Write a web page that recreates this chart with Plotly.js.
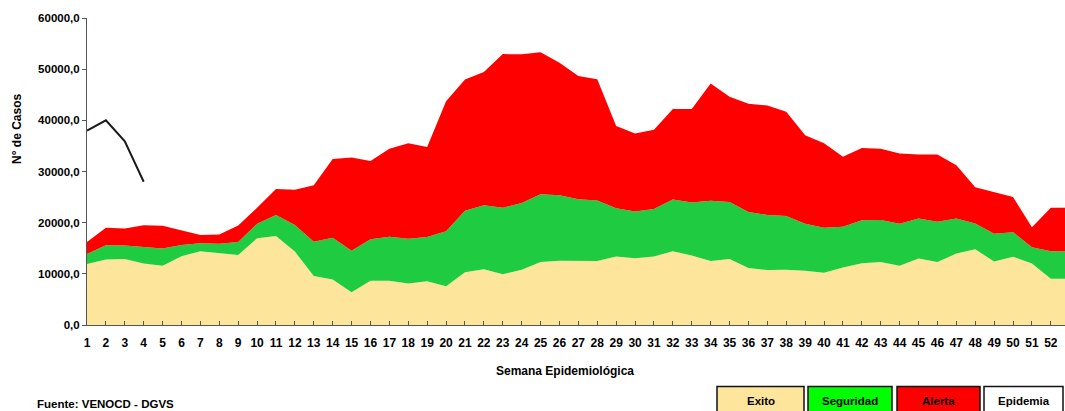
<!DOCTYPE html>
<html>
<head>
<meta charset="utf-8">
<script src="https://cdn.plot.ly/plotly-3.0.1.min.js"></script>
<style>html,body{margin:0;padding:0;background:#fff;}#chart{width:1065px;height:411px;}</style>
</head>
<body>
<div id="chart"></div>
<script>
var weeks = [1,2,3,4,5,6,7,8,9,10,11,12,13,14,15,16,17,18,19,20,21,22,23,24,25,26,27,28,29,30,31,32,33,34,35,36,37,38,39,40,41,42,43,44,45,46,47,48,49,50,51,52,53];
var tickWeeks = [1,2,3,4,5,6,7,8,9,10,11,12,13,14,15,16,17,18,19,20,21,22,23,24,25,26,27,28,29,30,31,32,33,34,35,36,37,38,39,40,41,42,43,44,45,46,47,48,49,50,51,52];
// cumulative thresholds
var exito = [11900,12800,12900,12000,11600,13450,14400,14100,13700,16950,17400,14350,9600,8900,6400,8650,8650,8100,8550,7550,10300,10900,9900,10800,12300,12550,12500,12500,13400,13050,13400,14400,13600,12500,12900,11150,10750,10800,10600,10200,11250,12050,12300,11600,13000,12300,13950,14800,12400,13350,12000,9050,9050];
var seguridad = [13900,15600,15550,15200,14950,15650,16000,15900,16200,19800,21500,19550,16250,17050,14500,16750,17250,16850,17200,18300,22350,23400,22900,23850,25550,25350,24600,24350,22800,22200,22650,24550,23950,24300,24050,22100,21500,21300,19800,19000,19200,20450,20500,19800,20800,20200,20800,19850,17850,18150,15200,14400,14400];
var alerta = [16200,19000,18850,19500,19400,18500,17600,17700,19450,22900,26600,26450,27300,32450,32750,32050,34450,35500,34800,43750,48000,49450,52950,52900,53300,51250,48650,48050,38900,37450,38150,42200,42200,47200,44600,43250,42900,41700,37100,35500,32900,34600,34450,33500,33300,33300,31200,26900,25900,25000,19100,22900,22900];
var epidemiaWeeks = [1,2,3,4];
var epidemia = [38000,40000,35900,28000];
var legendLabels = ["Exito","Seguridad","Alerta","Epidemia"];

var cYellow = "#FDE59B", cGreen = "#1ECB41", cRed = "#FF0000";

var traces = [
  {x: weeks, y: exito, type: "scatter", mode: "lines", fill: "tozeroy", fillcolor: cYellow, line: {width: 0, color: cYellow}, hoverinfo: "skip", showlegend: false},
  {x: weeks, y: seguridad, type: "scatter", mode: "lines", fill: "tonexty", fillcolor: cGreen, line: {width: 0, color: cGreen}, hoverinfo: "skip", showlegend: false},
  {x: weeks, y: alerta, type: "scatter", mode: "lines", fill: "tonexty", fillcolor: cRed, line: {width: 0, color: cRed}, hoverinfo: "skip", showlegend: false},
  {x: epidemiaWeeks, y: epidemia, type: "scatter", mode: "lines", line: {width: 2, color: "#1a1a1a"}, hoverinfo: "skip", showlegend: false}
];

// pixel helpers for layout-only decorations
var L = 87, R = 1065, T = 18, B = 325;
function px(x){ return (x - L) / (R - L); }
function py(y){ return (B - y) / (B - T); }

var boxes = [[717,804,"#FDE59B"],[808,892,"#00FF00"],[897,980,"#FF0000"],[984,1063,"#FFFFFF"]];
var shapes = [], annotations = [];
boxes.forEach(function(b, i){
  shapes.push({type: "rect", xref: "paper", yref: "paper", x0: px(b[0]), x1: px(b[1]), y0: py(412), y1: py(386.5), fillcolor: b[2], line: {color: "#111", width: 1.5}});
  annotations.push({xref: "paper", yref: "paper", x: px((b[0]+b[1])/2), y: py(401), text: legendLabels[i], showarrow: false, xanchor: "center", yanchor: "middle", font: {family: "Liberation Sans, Arial, sans-serif", size: 11.5, color: "#000", weight: "bold"}});
});
annotations.push({xref: "paper", yref: "paper", x: px(565), y: py(371), text: "Semana Epidemiológica", showarrow: false, xanchor: "center", yanchor: "middle", font: {family: "Liberation Sans, Arial, sans-serif", size: 12, color: "#000", weight: "bold"}});
annotations.push({xref: "paper", yref: "paper", x: px(35), y: py(404), text: "Fuente: VENOCD - DGVS", showarrow: false, xanchor: "left", yanchor: "middle", font: {family: "Liberation Sans, Arial, sans-serif", size: 11.5, color: "#000", weight: "bold"}});
annotations.push({xref: "paper", yref: "paper", x: px(17), y: py(129), text: "N° de Casos", textangle: -90, showarrow: false, xanchor: "center", yanchor: "middle", font: {family: "Liberation Sans, Arial, sans-serif", size: 12, color: "#000", weight: "bold"}});

var layout = {
  width: 1065, height: 411,
  margin: {l: L, r: 1065 - R, t: T, b: 411 - B},
  paper_bgcolor: "#fff", plot_bgcolor: "#fff",
  separators: ",.",
  showlegend: false,
  xaxis: {
    range: [1, 52.75], tickvals: tickWeeks, ticktext: tickWeeks.map(String),
    showgrid: false, zeroline: false, showline: true, linecolor: "#555", linewidth: 1,
    ticks: "inside", ticklen: 4, tickcolor: "#555", ticklabelstandoff: 7,
    tickfont: {family: "Liberation Sans, Arial, sans-serif", size: 12, color: "#000", weight: "bold"}
  },
  yaxis: {
    range: [0, 60000], tickvals: [0,10000,20000,30000,40000,50000,60000], tickformat: ".1f",
    showgrid: false, zeroline: false, showline: true, linecolor: "#555", linewidth: 1,
    ticks: "outside", ticklen: 4, tickcolor: "#555",
    tickfont: {family: "Liberation Sans, Arial, sans-serif", size: 11.5, color: "#000", weight: "bold"}
  },
  shapes: shapes,
  annotations: annotations
};

Plotly.newPlot("chart", traces, layout, {staticPlot: true, displayModeBar: false});
</script>
</body>
</html>
